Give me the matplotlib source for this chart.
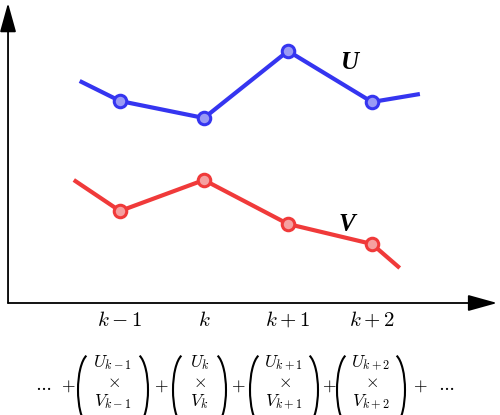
import matplotlib
matplotlib.use("Agg")
import matplotlib.pyplot as plt
from matplotlib.patches import Arc

plt.rcParams["mathtext.fontset"] = "cm"

# positions along the k axis (k-1 = 1, k = 2, ...)
u_x = [0.52, 1, 2, 3, 4, 4.57]
u_y = [2.22, 2.02, 1.85, 2.52, 2.01, 2.09]
v_x = [0.45, 1, 2, 3, 4, 4.33]
v_y = [1.23, 0.92, 1.23, 0.79, 0.59, 0.35]
tick_pos = [1, 2, 3, 4]
tick_labels = [r"$k-1$", r"$k$", r"$k+1$", r"$k+2$"]
sub_labels = ["k-1", "k", "k+1", "k+2"]

blue = "#3535f0"
red = "#f03a3a"

fig = plt.figure(figsize=(5, 4.15), dpi=100)
ax = fig.add_axes([0, 0, 1, 1])
ax.set_xlim(-36 / 84, 464 / 84)
ax.set_ylim(-1.12, 3.03)
ax.axis("off")

# axes with arrows
arr = dict(arrowstyle="-|>,head_length=0.9,head_width=0.25", color="black", lw=1.3,
           mutation_scale=20, shrinkA=0, shrinkB=0)
ax.annotate("", xy=(-0.333, 3.0), xytext=(-0.333, 0), arrowprops=arr)
ax.annotate("", xy=(5.49, 0), xytext=(-0.333, 0), arrowprops=arr)

# interior points get markers, end stubs do not
ax.plot(u_x, u_y, color=blue, lw=3, solid_capstyle="butt", zorder=3)
ax.plot(u_x[1:-1], u_y[1:-1], "o", ms=9, mfc="#9a9af5", mec=blue, mew=2.2, zorder=4)
ax.plot(v_x, v_y, color=red, lw=3, solid_capstyle="butt", zorder=3)
ax.plot(v_x[1:-1], v_y[1:-1], "o", ms=9, mfc="#f5a0a0", mec=red, mew=2.2, zorder=4)

ax.text(3.74, 2.41, "U", fontsize=18, family="Liberation Serif", fontweight="bold",
        fontstyle="italic", ha="center", va="center")
ax.text(3.7, 0.79, "V", fontsize=18, family="Liberation Serif", fontweight="bold",
        fontstyle="italic", ha="center", va="center")

for x, lab in zip(tick_pos, tick_labels):
    ax.text(x, -0.17, lab, fontsize=15, ha="center", va="center")

# formula below the chart, pixel coordinates
fx = fig.add_axes([0, 0, 1, 1])
fx.set_xlim(0, 500)
fx.set_ylim(415, 0)
fx.axis("off")

fs = 12.5
fx.text(43, 386, r"$\cdots$", fontsize=fs, ha="center", va="center")
fx.text(68, 386, r"$+$", fontsize=fs, ha="center", va="center")
groups = [(78, 148), (173, 226), (250, 318), (337, 405)]
plus_x = [161, 238, 329, 420]
for (left, right), sub, px in zip(groups, sub_labels, plus_x):
    mid = (left + right) / 2
    fx.add_patch(Arc((left + 12, 390), 24, 72, theta1=96, theta2=264, lw=1.5, color="black"))
    fx.add_patch(Arc((right - 12, 390), 24, 72, theta1=-84, theta2=84, lw=1.5, color="black"))
    fx.text(mid, 367, r"$U_{%s}$" % sub, fontsize=fs, ha="center", va="baseline")
    fx.text(mid, 382, r"$\times$", fontsize=fs, ha="center", va="center")
    fx.text(mid, 406, r"$V_{%s}$" % sub, fontsize=fs, ha="center", va="baseline")
    fx.text(px, 386, r"$+$", fontsize=fs, ha="center", va="center")
fx.text(446, 386, r"$\cdots$", fontsize=fs, ha="center", va="center")

fig.savefig("out.png", dpi=100)
